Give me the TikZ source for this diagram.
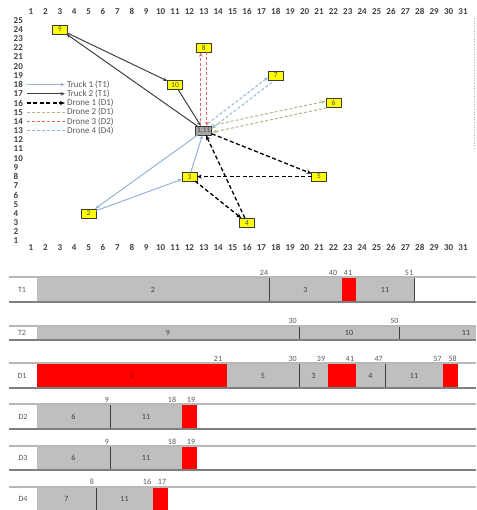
\documentclass[tikz,border=0pt]{standalone}
\usepackage{fontspec}
\setmainfont{Carlito}
\usetikzlibrary{arrows.meta}
\definecolor{axisc}{HTML}{3F3F3F}
\definecolor{legc}{HTML}{595959}
\definecolor{truckone}{HTML}{95B3D7}
\definecolor{trucktwo}{HTML}{404040}
\definecolor{dronetwo}{HTML}{AEB88C}
\definecolor{dronethree}{HTML}{E06666}
\definecolor{dronefour}{HTML}{93B6DA}
\definecolor{boxyellow}{HTML}{FFFF00}
\definecolor{boxline}{HTML}{3A3A3A}
\definecolor{depotgray}{HTML}{A6A6A6}
\definecolor{bargray}{HTML}{BFBFBF}
\definecolor{barred}{HTML}{FF0000}
\definecolor{topl}{HTML}{B8B8B8}
\definecolor{botl}{HTML}{7F7F7F}
\definecolor{segc}{HTML}{404040}
\begin{document}
\begin{tikzpicture}[x=1pt,y=-1pt,
 every node/.style={inner sep=0pt,outer sep=0pt},
 ax/.style={font=\fontsize{9}{10}\selectfont\bfseries,text=axisc},
 leg/.style={font=\fontsize{9}{10}\selectfont,text=legc,anchor=west},
 loc/.style={draw=boxline,line width=0.7pt,fill=boxyellow,minimum width=15pt,minimum height=9pt,font=\fontsize{7.5}{8}\selectfont,text=black!70},
 depot/.style={loc,fill=depotgray,minimum width=16pt},
 tip/.style={-{Stealth[length=4.5pt,width=3.5pt]}},
 tone/.style={draw=truckone,line width=1pt,tip},
 ttwo/.style={draw=trucktwo,line width=1pt,tip},
 done/.style={draw=black,line width=1.3pt,dash pattern=on 4pt off 2.5pt,-{Stealth[length=5pt,width=4pt]}},
 dtwo/.style={draw=dronetwo,line width=1pt,dash pattern=on 3pt off 2pt,tip},
 dthree/.style={draw=dronethree,line width=1pt,dash pattern=on 3pt off 2pt,tip},
 dfour/.style={draw=dronefour,line width=1pt,dash pattern=on 3pt off 2pt,tip},
 rowlab/.style={font=\fontsize{8}{9}\selectfont,text=legc},
 seglab/.style={font=\fontsize{8}{9}\selectfont,text=segc},
 tlab/.style={font=\fontsize{8}{9}\selectfont,text=legc,anchor=base},
 topline/.style={draw=topl,line width=1.4pt},
 botline/.style={draw=botl,line width=1.6pt},
 divl/.style={draw=segc,line width=0.8pt},
]
\useasboundingbox (0,0) rectangle (476,510);

% ---------------- map ----------------
\begin{scope}[shift={(16.6pt,-250.2pt)},x=14.4pt,y=9.2pt]
\foreach \c in {1,...,31}{
  \node[ax] (xt\c) at (\c,25.9) {\c};
  \node[ax] (xb\c) at (\c,0.25) {\c};
}
\foreach \r in {1,...,25}{
  \node[ax,anchor=west] (yl\r) at (-0.2,\r) {\r};
}
\node[loc] (n9) at (3,24) {9};
\node[loc] (n10) at (11,18) {10};
\node[loc] (n8) at (13,22) {8};
\node[depot] (dep) at (13,13) {1,11};
\node[loc] (n7) at (18,19) {7};
\node[loc] (n6) at (22,16) {6};
\node[loc] (n5) at (21,8) {5};
\node[loc] (n4) at (16,3) {4};
\node[loc] (n3) at (12,8) {3};
\node[loc] (n2) at (5,4) {2};

% truck 1
\draw[tone] (dep) -- (n2);
\draw[tone] (n2) -- (n3);
\draw[tone] (n3) -- (dep);
% truck 2
\draw[ttwo] (dep) -- (n9);
\draw[ttwo] (n9) -- (n10);
\draw[ttwo] (n10) -- (dep);
% drone 1
\draw[done] (dep) -- (n5);
\draw[done] (n5) -- (n3);
\draw[done] (n3) -- (n4);
\draw[done] (n4) -- (dep);
% drone 3
\draw[dthree,transform canvas={xshift=-3pt}] (dep) -- (n8);
\draw[dthree,transform canvas={xshift=3pt}] (n8) -- (dep);
% drone 4
\draw[dfour,transform canvas={xshift=-1.9pt,yshift=2.5pt}] (dep) -- (n7);
\draw[dfour,transform canvas={xshift=1.9pt,yshift=-2.5pt}] (n7) -- (dep);
% drone 2
\draw[dtwo,transform canvas={xshift=-0.7pt,yshift=3.3pt}] (dep) -- (n6);
\draw[dtwo,transform canvas={xshift=0.7pt,yshift=-3.3pt}] (n6) -- (dep);

% legend
\foreach \r in {13,...,18}{
  \coordinate (la\r) at (0.72,\r);
  \coordinate (lb\r) at (3.36,\r);
}
\draw[tone] (la18) -- (lb18);
\node[leg] (lt18) at (3.5,18) {Truck 1 (T1)};
\draw[ttwo] (la17) -- (lb17);
\node[leg] (lt17) at (3.5,17) {Truck 2 (T1)};
\draw[done] (la16) -- (lb16);
\node[leg] (lt16) at (3.5,16) {Drone 1 (D1)};
\draw[dtwo,-] (la15) -- (lb15);
\node[leg] (lt15) at (3.5,15) {Drone 2 (D1)};
\draw[dthree,-] (la14) -- (lb14);
\node[leg] (lt14) at (3.5,14) {Drone 3 (D2)};
\draw[dfour,-] (la13) -- (lb13);
\node[leg] (lt13) at (3.5,13) {Drone 4 (D4)};
\end{scope}

\coordinate (rb1) at (474,18);
\coordinate (rb2) at (474,150);
\draw[gray!60,dotted,line width=0.6pt] (rb1) -- (rb2);

% ---------------- Gantt ----------------
% T1
\fill[bargray] (37,278) rectangle (414,301);
\fill[barred] (342,278) rectangle (356,301);
\draw[divl] (269,278) -- (269,301);
\draw[divl] (414,278) -- (414,301);
\draw[topline] (9,277) -- (476,277);
\draw[botline] (9,302) -- (476,302);
\node[rowlab] (rT1) at (22,290) {T1};
\node[seglab] (sT1a) at (153,290) {2};
\node[seglab] (sT1b) at (305.5,290) {3};
\node[seglab] (sT1c) at (385,290) {11};
\foreach \x/\t in {264/24,333/40,348/41,409/51}
  \node[tlab] (bT1-\t) at (\x,275) {\t};

% T2
\fill[bargray] (37,327) rectangle (476,339);
\draw[divl] (299,327) -- (299,339);
\draw[divl] (399,327) -- (399,339);
\draw[topline] (9,326) -- (476,326);
\draw[botline] (9,340) -- (476,340);
\node[rowlab] (rT2) at (22,333) {T2};
\node[seglab] (sT2a) at (168,333) {9};
\node[seglab] (sT2b) at (349,333) {10};
\node[seglab] (sT2c) at (466,333) {11};
\foreach \x/\t in {292.7/30,394.3/50}
  \node[tlab] (bT2-\t) at (\x,323) {\t};

% D1
\fill[bargray] (227,364) rectangle (443,387);
\fill[barred] (37,364) rectangle (227,387);
\fill[barred] (328,364) rectangle (356,387);
\fill[barred] (443,364) rectangle (458,387);
\draw[divl] (299,364) -- (299,387);
\draw[divl] (385,364) -- (385,387);
\draw[topline] (9,363) -- (476,363);
\draw[botline] (9,388) -- (476,388);
\node[rowlab] (rD1) at (22,376) {D1};
\node[seglab,text=red!55!black] (sD1a) at (132,376) {1};
\node[seglab] (sD1b) at (263,376) {5};
\node[seglab] (sD1c) at (313.5,376) {3};
\node[seglab] (sD1d) at (370.5,376) {4};
\node[seglab] (sD1e) at (414,376) {11};
\foreach \x/\t in {218/21,292.7/30,321/39,350/41,378.7/47,437.7/57,452.7/58}
  \node[tlab] (bD1-\t) at (\x,361) {\t};

% D2
\fill[bargray] (37,405) rectangle (182,428);
\fill[barred] (182,405) rectangle (197,428);
\draw[divl] (110,405) -- (110,428);
\draw[topline] (9,404) -- (476,404);
\draw[botline] (9,429) -- (476,429);
\node[rowlab] (rD2) at (23,416.5) {D2};
\node[seglab] (sD2a) at (73.5,416.5) {6};
\node[seglab] (sD2b) at (146,416.5) {11};
\foreach \x/\t in {107/9,172/18,191/19}
  \node[tlab] (bD2-\t) at (\x,402) {\t};

% D3
\fill[bargray] (37,447) rectangle (182,469);
\fill[barred] (182,447) rectangle (197,469);
\draw[divl] (110,447) -- (110,469);
\draw[topline] (9,446) -- (476,446);
\draw[botline] (9,470) -- (476,470);
\node[rowlab] (rD3) at (23,458) {D3};
\node[seglab] (sD3a) at (73.5,458) {6};
\node[seglab] (sD3b) at (146,458) {11};
\foreach \x/\t in {107/9,172/18,191/19}
  \node[tlab] (bD3-\t) at (\x,444) {\t};

% D4
\fill[bargray] (37,488) rectangle (153,510);
\fill[barred] (153,488) rectangle (168,510);
\draw[divl] (96,488) -- (96,510);
\draw[topline] (9,487) -- (476,487);
\node[rowlab] (rD4) at (23,499) {D4};
\node[seglab] (sD4a) at (66.5,499) {7};
\node[seglab] (sD4b) at (124.5,499) {11};
\foreach \x/\t in {92/8,147/16,162/17}
  \node[tlab] (bD4-\t) at (\x,484) {\t};
\end{tikzpicture}
\end{document}
